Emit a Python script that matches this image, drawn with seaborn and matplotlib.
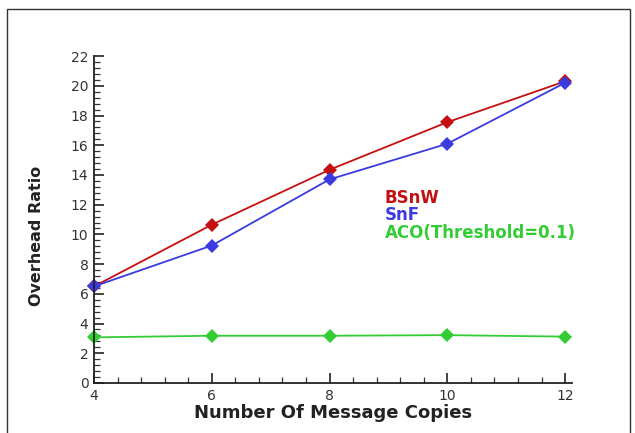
import matplotlib
matplotlib.use("Agg")
import matplotlib.pyplot as plt
import seaborn as sns
import pandas as pd
from matplotlib.patches import Rectangle
from matplotlib.ticker import MultipleLocator

copies = [4, 6, 8, 10, 12]
bsnw = [6.5, 10.65, 14.35, 17.55, 20.3]
snf = [6.5, 9.25, 13.7, 16.1, 20.2]
aco = [3.07, 3.18, 3.18, 3.22, 3.12]
series_names = ["BSnW", "SnF", "ACO(Threshold=0.1)"]
colors = ["#c41010", "#3a3ae0", "#33cc33"]

sns.set_style("ticks")
plt.rcParams["font.family"] = ["DejaVu Sans"]

df = pd.DataFrame({
    "x": copies * 3,
    "y": bsnw + snf + aco,
    "series": [series_names[0]] * 5 + [series_names[1]] * 5 + [series_names[2]] * 5,
})

fig = plt.figure(figsize=(6.35, 4.33), dpi=100)
ax = fig.add_axes([0.148, 0.1155, 0.753, 0.755])
palette = dict(zip(series_names, colors))
sns.lineplot(data=df, x="x", y="y", hue="series", palette=palette, style="series",
             markers={n: "D" for n in series_names}, dashes=False, markersize=7,
             markeredgewidth=0, linewidth=1.3, ax=ax, legend=False, clip_on=False)

ax.set_xlim(4, 12.12)
ax.set_ylim(0, 22)
ax.xaxis.set_major_locator(MultipleLocator(2))
ax.xaxis.set_minor_locator(MultipleLocator(0.4))
ax.yaxis.set_major_locator(MultipleLocator(2))
ax.yaxis.set_minor_locator(MultipleLocator(0.4))
ax.tick_params(which="major", direction="in", length=7, width=1.2, colors="#222222",
               labelsize=10, labelcolor="#333333", pad=4)
ax.tick_params(which="minor", direction="in", length=4, width=0.9, colors="#333333")
for s in ["top", "right"]:
    ax.spines[s].set_visible(False)
for s in ["left", "bottom"]:
    ax.spines[s].set_linewidth(1.3)
    ax.spines[s].set_color("#222222")

ax.set_xlabel("Number Of Message Copies", fontsize=13, fontweight="bold", color="#222222")
ax.xaxis.set_label_coords(0.5, -0.065)
ax.set_ylabel("Overhead Ratio", fontsize=11.5, fontweight="bold", color="#222222")
ax.yaxis.set_label_coords(-0.105, 0.45)

for i, (n, c) in enumerate(zip(series_names, colors)):
    fig.text(385 / 635, 1 - (198 + i * 17.5) / 433, n, color=c, fontsize=12,
             fontweight="bold", va="center", ha="left")

fig.add_artist(Rectangle((7 / 635, -0.02), (630 - 7) / 635, 1 - 9 / 433 + 0.02,
                         transform=fig.transFigure, fill=False, edgecolor="#333333",
                         linewidth=1.0))

fig.savefig("out.png", dpi=100)
